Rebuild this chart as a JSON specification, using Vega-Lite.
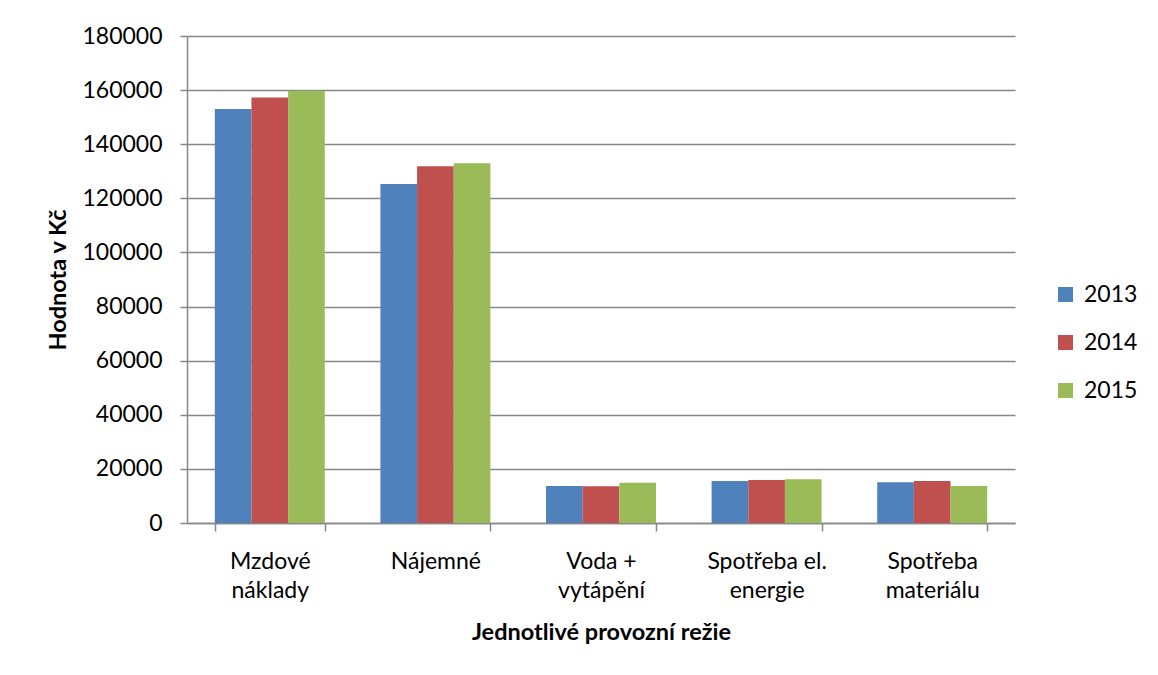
{
  "$schema": "https://vega.github.io/schema/vega-lite/v6.json",
  "width": 828,
  "height": 487,
  "autosize": {"type": "none"},
  "padding": {"left": 187, "top": 36, "right": 143, "bottom": 152},
  "background": "white",
  "data": {
    "values": [
      {"polozka": "Mzdové náklady", "rok": "2013", "hodnota": 153000},
      {"polozka": "Mzdové náklady", "rok": "2014", "hodnota": 157300},
      {"polozka": "Mzdové náklady", "rok": "2015", "hodnota": 159800},
      {"polozka": "Nájemné", "rok": "2013", "hodnota": 125300},
      {"polozka": "Nájemné", "rok": "2014", "hodnota": 131900},
      {"polozka": "Nájemné", "rok": "2015", "hodnota": 133000},
      {"polozka": "Voda + vytápění", "rok": "2013", "hodnota": 13700},
      {"polozka": "Voda + vytápění", "rok": "2014", "hodnota": 13600},
      {"polozka": "Voda + vytápění", "rok": "2015", "hodnota": 14900},
      {"polozka": "Spotřeba el. energie", "rok": "2013", "hodnota": 15500},
      {"polozka": "Spotřeba el. energie", "rok": "2014", "hodnota": 15900},
      {"polozka": "Spotřeba el. energie", "rok": "2015", "hodnota": 16200},
      {"polozka": "Spotřeba materiálu", "rok": "2013", "hodnota": 15100},
      {"polozka": "Spotřeba materiálu", "rok": "2014", "hodnota": 15500},
      {"polozka": "Spotřeba materiálu", "rok": "2015", "hodnota": 13700}
    ]
  },
  "mark": {"type": "bar"},
  "encoding": {
    "x": {
      "field": "polozka",
      "type": "nominal",
      "sort": null,
      "scale": {"paddingInner": 0.336, "paddingOuter": 0.168},
      "title": "Jednotlivé provozní režie",
      "axis": {
        "labelAngle": 0,
        "tickBand": "extent",
        "tickSize": 8,
        "labelPadding": 19,
        "labelLineHeight": 29,
        "labelExpr": "datum.label == 'Mzdové náklady' ? ['Mzdové', 'náklady'] : datum.label == 'Voda + vytápění' ? ['Voda +', 'vytápění'] : datum.label == 'Spotřeba el. energie' ? ['Spotřeba el.', 'energie'] : datum.label == 'Spotřeba materiálu' ? ['Spotřeba', 'materiálu'] : datum.label",
        "titlePadding": 18
      }
    },
    "xOffset": {"field": "rok", "type": "nominal", "scale": {"paddingInner": 0, "paddingOuter": 0}},
    "y": {
      "field": "hodnota",
      "type": "quantitative",
      "scale": {"domain": [0, 180000], "nice": false},
      "title": "Hodnota v Kč",
      "axis": {
        "values": [0, 20000, 40000, 60000, 80000, 100000, 120000, 140000, 160000, 180000],
        "format": "d",
        "tickSize": 7,
        "labelPadding": 18,
        "titlePadding": 11,
        "grid": true
      }
    },
    "color": {
      "field": "rok",
      "type": "nominal",
      "scale": {"domain": ["2013", "2014", "2015"], "range": ["#4F81BD", "#C0504D", "#9BBB59"]},
      "legend": {
        "title": null,
        "orient": "none",
        "legendX": 867,
        "legendY": 247,
        "symbolType": "square",
        "symbolSize": 225,
        "symbolStrokeWidth": 0,
        "labelOffset": 7,
        "rowPadding": 24,
        "labelFontSize": 23,
        "labelFont": "Lato",
        "labelColor": "#000000"
      }
    }
  },
  "config": {
    "view": {"stroke": null},
    "axis": {
      "domainColor": "#868686",
      "domainWidth": 1.5,
      "tickColor": "#868686",
      "tickWidth": 1.5,
      "gridColor": "#868686",
      "gridWidth": 1.5,
      "labelFont": "Lato",
      "labelFontSize": 23,
      "labelColor": "#000000",
      "titleFont": "Lato",
      "titleFontSize": 23.5,
      "titleFontWeight": "bold",
      "titleColor": "#000000"
    }
  }
}
